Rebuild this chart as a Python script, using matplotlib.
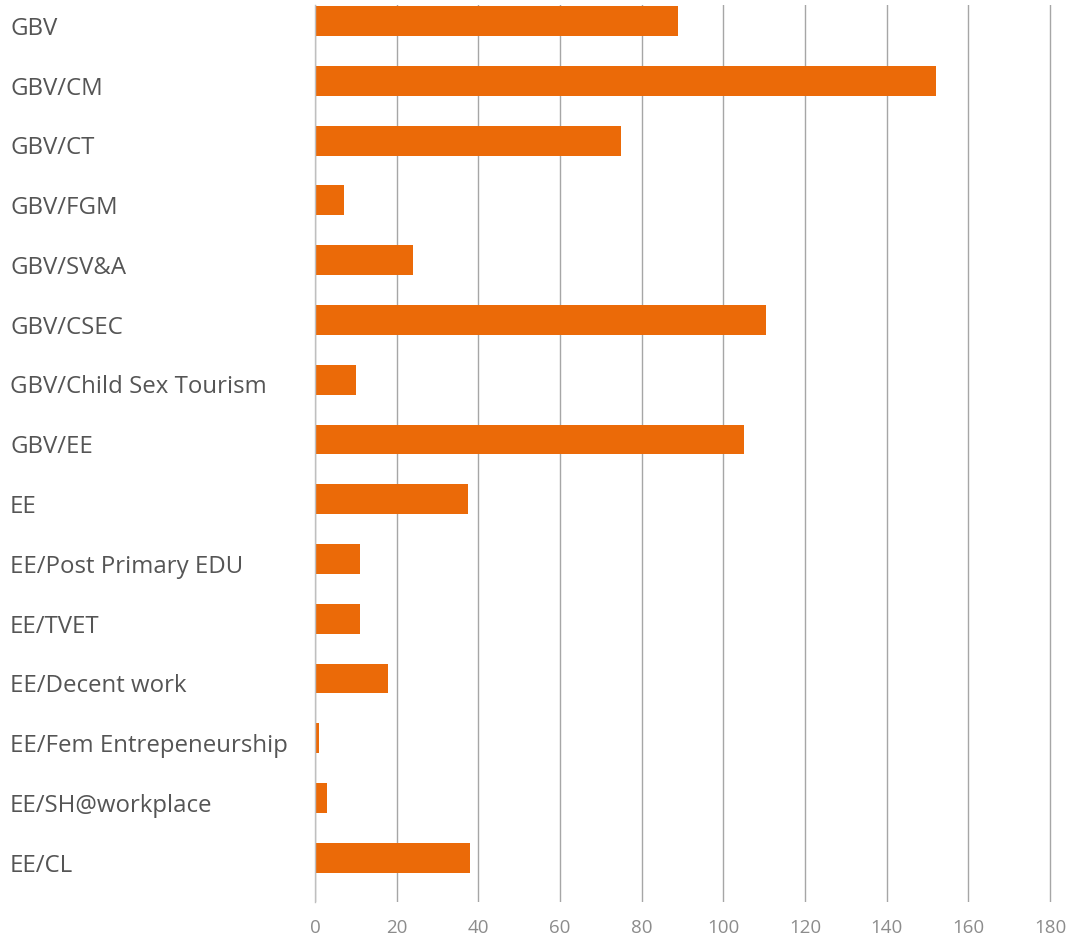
import matplotlib

matplotlib.use("Agg")
import matplotlib.pyplot as plt
from matplotlib.transforms import blended_transform_factory

categories = [
    "GBV", "GBV/CM", "GBV/CT", "GBV/FGM", "GBV/SV&A", "GBV/CSEC",
    "GBV/Child Sex Tourism", "GBV/EE", "EE", "EE/Post Primary EDU",
    "EE/TVET", "EE/Decent work", "EE/Fem Entrepeneurship",
    "EE/SH@workplace", "EE/CL",
]
counts = [89, 152, 75, 7, 24, 110.5, 10, 105, 37.5, 11, 11, 18, 1, 3, 38]
x_ticks = [0, 20, 40, 60, 80, 100, 120, 140, 160, 180]

plt.rcParams["font.family"] = ["Open Sans", "DejaVu Sans"]

fig = plt.figure(figsize=(10.74, 9.4), dpi=100)
ax = fig.add_axes([315 / 1074, 1 - 902 / 940, (1052 - 315) / 1074, (902 - 5) / 940])

pos = list(range(len(categories)))
ax.barh(pos, counts, height=0.5, color="#EB6A08", zorder=3)

ax.set_xlim(0, 180.5)
ax.set_ylim(14.74, -0.27)
ax.set_xticks(x_ticks)
ax.set_xticklabels([str(t) for t in x_ticks])
ax.grid(axis="x", color="#a6a6a6", linewidth=1, zorder=0)
ax.set_axisbelow(True)

for side in ["top", "right", "bottom"]:
    ax.spines[side].set_visible(False)
ax.spines["left"].set_color("#bfbfbf")
ax.spines["left"].set_linewidth(1)
ax.spines["left"].set_zorder(4)

ax.tick_params(axis="x", length=0, pad=12, labelsize=13.5, labelcolor="#8c8c8c")
ax.set_yticks(pos)
ax.set_yticklabels([])
ax.tick_params(axis="y", length=0)

label_tf = blended_transform_factory(fig.transFigure, ax.transData)
for p, name in zip(pos, categories):
    ax.text(10 / 1074, p + 0.13, name, transform=label_tf,
            ha="left", va="center", fontsize=17.3, color="#555555")

fig.savefig("out.png", dpi=100)
